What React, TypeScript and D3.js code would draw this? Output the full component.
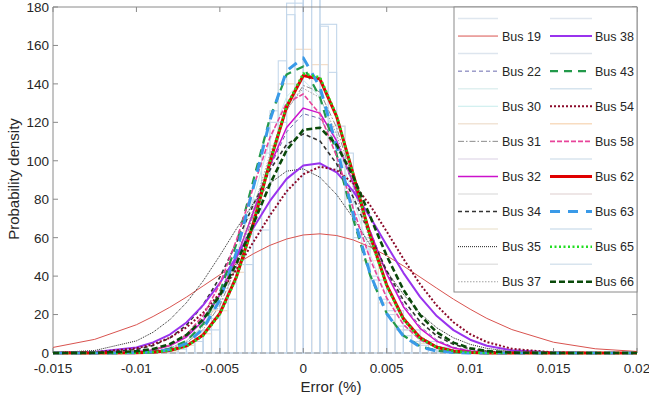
import React from 'react';
import * as d3 from 'd3';

// shared x grid of the fitted curves (Error, %)
const xGrid = [-0.015, -0.0125, -0.01, -0.009, -0.008, -0.007, -0.006, -0.005, -0.004, -0.003, -0.002, -0.001, 0, 0.001, 0.002, 0.003, 0.004, 0.005, 0.006, 0.007, 0.008, 0.009, 0.01, 0.011, 0.0125, 0.015, 0.0175, 0.02];

const bus19 = [2.9, 7.1, 14.7, 19.0, 23.8, 29.1, 34.9, 40.7, 46.4, 51.6, 56.0, 59.3, 61.4, 62.0, 61.1, 58.8, 55.2, 50.6, 45.3, 39.5, 33.7, 28.0, 22.8, 18.0, 12.2, 5.6, 2.2, 0.8];
const bus22 = [0, 0, 0.7, 1.8, 4.2, 9.1, 17.8, 31.5, 50.4, 73.2, 96.4, 115.0, 124.5, 122.0, 108.5, 87.4, 63.8, 42.2, 25.3, 13.8, 6.8, 3.0, 1.2, 0.5, 0.1, 0, 0, 0];
const bus30 = [0, 0, 0.3, 0.8, 2.5, 6.4, 14.5, 29.2, 51.6, 80.3, 110.3, 133.3, 142.0, 133.3, 110.3, 80.3, 51.6, 29.2, 14.5, 6.4, 2.5, 0.8, 0.3, 0, 0, 0, 0, 0];
const bus31 = [0, 0, 0.2, 0.7, 2.0, 5.3, 12.2, 24.8, 44.9, 71.6, 101.1, 126.2, 139.2, 135.8, 117.2, 89.4, 60.3, 35.9, 18.9, 8.8, 3.6, 1.3, 0.4, 0.1, 0, 0, 0, 0];
const bus32 = [0, 0, 0.6, 1.5, 3.7, 8.3, 16.7, 30.2, 49.5, 73.2, 97.5, 117.3, 127.4, 124.8, 110.4, 88.1, 63.4, 41.2, 24.1, 12.8, 6.1, 2.6, 1.0, 0.4, 0.1, 0, 0, 0];
const bus34 = [0, 0.2, 1.8, 3.9, 7.8, 14.5, 25.0, 39.4, 57.4, 77.0, 95.2, 108.5, 114.0, 110.3, 98.4, 80.9, 61.3, 42.8, 27.5, 16.3, 8.9, 4.5, 2.1, 0.9, 0.2, 0, 0, 0];
const bus35 = [0.2, 1.3, 6.3, 10.8, 17.3, 26.2, 37.5, 50.7, 64.7, 77.7, 88.3, 94.6, 95.8, 91.4, 82.4, 70.1, 56.3, 42.6, 30.5, 20.6, 13.1, 7.9, 4.5, 2.4, 0.8, 0.1, 0, 0];
const bus37 = [0, 0, 0.3, 0.9, 2.5, 6.2, 13.8, 27.3, 48.0, 74.8, 103.3, 126.6, 137.7, 132.8, 113.7, 86.3, 58.1, 34.8, 18.4, 8.7, 3.6, 1.3, 0.4, 0.1, 0, 0, 0, 0];
const bus38 = [0.1, 0.5, 2.9, 5.5, 9.6, 15.9, 24.9, 36.4, 50.2, 65.0, 79.1, 90.6, 97.5, 98.7, 94.0, 84.1, 70.8, 56.0, 41.7, 29.2, 19.2, 11.9, 6.9, 3.8, 1.4, 0.2, 0, 0];
const bus43 = [0, 0, 0.2, 0.7, 2.3, 6.3, 15.1, 31.5, 57.0, 89.6, 122.3, 144.9, 149.1, 133.1, 103.2, 69.4, 40.6, 20.6, 9.1, 3.5, 1.2, 0.3, 0.1, 0, 0, 0, 0, 0];
const bus54 = [0, 0.4, 2.4, 4.5, 7.9, 13.3, 20.9, 31.1, 43.6, 57.6, 71.6, 84.1, 93.0, 96.9, 95.2, 88.2, 76.9, 63.2, 49.0, 35.8, 24.7, 16.0, 9.8, 5.7, 2.2, 0.3, 0, 0];
const bus58 = [0, 0, 0.5, 1.6, 4.1, 9.5, 19.5, 35.9, 58.9, 86.1, 112.1, 130.1, 134.7, 124.3, 102.2, 75.0, 49.0, 28.6, 14.8, 6.9, 2.8, 1.0, 0.3, 0, 0, 0, 0, 0];
const bus62 = [0, 0, 0.1, 0.4, 1.3, 3.7, 9.4, 20.6, 39.8, 67.2, 99.3, 128.0, 144.4, 142.5, 123.0, 92.8, 61.2, 35.3, 17.8, 7.9, 3.0, 1.0, 0.3, 0, 0, 0, 0, 0];
const bus63 = [0, 0, 0.1, 0.5, 1.7, 4.9, 12.6, 27.6, 52.5, 85.9, 121.0, 146.8, 153.5, 138.3, 107.4, 71.8, 41.3, 20.5, 8.8, 3.2, 1.0, 0.3, 0, 0, 0, 0, 0, 0];
const bus65 = [0, 0, 0.1, 0.4, 1.2, 3.5, 9.0, 20.2, 39.3, 66.9, 99.3, 128.6, 145.4, 143.4, 123.5, 92.8, 60.8, 34.8, 17.4, 7.6, 2.9, 1.0, 0.3, 0, 0, 0, 0, 0];
const bus66 = [0, 0.1, 0.9, 2.1, 4.6, 9.4, 17.5, 29.9, 46.7, 66.9, 87.8, 105.5, 116.1, 117.2, 108.3, 91.7, 71.2, 50.5, 32.9, 19.7, 10.8, 5.4, 2.5, 1.0, 0.2, 0, 0, 0];

// background histograms (bin start, bin width, heights)
const histAStart = -0.008;
const histAWidth = 0.0005;
const histAValues = [2, 3, 5, 8, 12, 18, 26, 36, 48, 62, 80, 104, 126, 152, 176, 192, 196, 184, 170, 146, 118, 96, 72, 54, 40, 28, 20, 14, 9, 6, 4, 2, 1];
const histBStart = -0.0085;
const histBWidth = 0.001;
const histBValues = [1, 4, 10, 22, 42, 70, 108, 140, 158, 150, 118, 80, 48, 26, 12, 5, 2];
const histCStart = -0.009;
const histCWidth = 0.001;
const histCValues = [1, 2, 6, 12, 28, 46, 64, 120, 182, 188, 171, 104, 60, 38, 22, 12, 6, 3, 1];

const xTicks = [-0.015, -0.01, -0.005, 0, 0.005, 0.01, 0.015, 0.02];
const xTickLabels = ['-0.015', '-0.01', '-0.005', '0', '0.005', '0.01', '0.015', '0.02'];
const yTicks = [0, 20, 40, 60, 80, 100, 120, 140, 160, 180];

const seriesNames = ['Bus 19', 'Bus 22', 'Bus 30', 'Bus 31', 'Bus 32', 'Bus 34', 'Bus 35', 'Bus 37', 'Bus 38', 'Bus 43', 'Bus 54', 'Bus 58', 'Bus 62', 'Bus 63', 'Bus 65', 'Bus 66'];
const seriesValues = [bus19, bus22, bus30, bus31, bus32, bus34, bus35, bus37, bus38, bus43, bus54, bus58, bus62, bus63, bus65, bus66];

const styles = [
  { c: '#d9534f', w: 1, d: '' },
  { c: '#6a6aae', w: 1, d: '4,3' },
  { c: '#c6ecec', w: 1, d: '' },
  { c: '#8c8c8c', w: 1, d: '6,2,1.5,2' },
  { c: '#cc11cc', w: 1.5, d: '' },
  { c: '#333333', w: 1.6, d: '4,3' },
  { c: '#222222', w: 1, d: '1,1' },
  { c: '#a0a0a0', w: 1, d: '1.5,1.5' },
  { c: '#9933ee', w: 2, d: '' },
  { c: '#22994a', w: 2.2, d: '8,6' },
  { c: '#8b0a2a', w: 2, d: '2,2' },
  { c: '#e8449a', w: 1.6, d: '5,2' },
  { c: '#e00000', w: 3, d: '' },
  { c: '#3a9ae8', w: 3, d: '10,8' },
  { c: '#22dd22', w: 2.5, d: '2,2.5' },
  { c: '#0a4a0a', w: 2.6, d: '6,3' },
];

const histLegendColors = ['#dfe7ef', '#dde5ee', '#e0f0f0', '#f1e4d6', '#e6dfec', '#e3e3e3', '#efe8d8', '#e3e3e3', '#e0e6ee', '#dde3ea', '#d6e4ee', '#f8dcc0', '#d8e4ee', '#e8dede', '#d3e2ee', '#d8e4ee'];

const FONT = '"Liberation Sans", Arial, Helvetica, sans-serif';

export default function App() {
  const x = d3.scaleLinear().domain([-0.015, 0.02]).range([53, 637]);
  const y = d3.scaleLinear().domain([0, 180]).range([353, 7]);
  const line = d3.line<[number, number]>().x(d => x(d[0])).y(d => y(d[1]));

  const hist = (start: number, width: number, vals: number[], color: string, key: string) =>
    vals.map((v, i) => {
      const x0 = x(start + i * width);
      const x1 = x(start + (i + 1) * width);
      return <rect key={key + i} x={x0} y={y(v)} width={x1 - x0} height={y(0) - y(v)} fill="none" stroke={color} strokeWidth={1.1} />;
    });

  const legendY = (k: number) => 18.5 + k * 17.55;

  return (
    <svg width={649} height={403} style={{ position: 'absolute', left: 0, top: 0, background: '#fff' }} fontFamily={FONT}>
      <rect x={0} y={0} width={649} height={403} fill="#fff" />
      <g>
        {hist(histBStart, histBWidth, histBValues, '#f2dac4', 'b')}
        {hist(histAStart, histAWidth, histAValues, '#c6d9ec', 'a')}
        {hist(histCStart, histCWidth, histCValues, '#c2d6ea', 'c')}
      </g>
      {/* axes box */}
      <line x1={53} x2={637} y1={353} y2={353} stroke="#9a9a9a" strokeWidth={1.2} strokeDasharray="6,3" />
      <line x1={53} x2={637} y1={7} y2={7} stroke="#8a8a8a" strokeWidth={1} />
      <line x1={53} x2={53} y1={7} y2={353} stroke="#8a8a8a" strokeWidth={1} />
      <line x1={637} x2={637} y1={7} y2={353} stroke="#8a8a8a" strokeWidth={1} />
      {xTicks.map((t, i) => (
        <g key={'xt' + i}>
          <line x1={x(t)} x2={x(t)} y1={353} y2={348} stroke="#8a8a8a" />
          <line x1={x(t)} x2={x(t)} y1={7} y2={12} stroke="#8a8a8a" />
          <text x={x(t)} y={373} fontSize={13.5} textAnchor="middle" fill="#262626">{xTickLabels[i]}</text>
        </g>
      ))}
      {yTicks.map((t, i) => (
        <g key={'yt' + i}>
          <line x1={53} x2={58} y1={y(t)} y2={y(t)} stroke="#8a8a8a" />
          <line x1={637} x2={632} y1={y(t)} y2={y(t)} stroke="#8a8a8a" />
          <text x={49} y={y(t)} dy="0.36em" fontSize={13.5} textAnchor="end" fill="#262626">{t}</text>
        </g>
      ))}
      {/* fitted curves */}
      {seriesValues.map((vals, i) => (
        <path key={'s' + i} d={line(xGrid.map((xv, j) => [xv, vals[j] ?? 0]) as [number, number][]) || ''}
          fill="none" stroke={styles[i].c} strokeWidth={styles[i].w} strokeDasharray={styles[i].d || undefined} strokeLinejoin="round" />
      ))}
      <text x={331} y={392} fontSize={15} textAnchor="middle" fill="#262626">Error (%)</text>
      <text transform="translate(19,179) rotate(-90)" fontSize={15} textAnchor="middle" fill="#262626">Probability density</text>
      {/* legend */}
      <rect x={454} y={7} width={183} height={285} fill="#fff" stroke="#8a8a8a" strokeWidth={1} />
      {seriesNames.map((name, i) => {
        const col = i < 8 ? 0 : 1;
        const row = i % 8;
        const lx0 = col === 0 ? 458 : 550;
        const lx1 = col === 0 ? 498 : 592;
        const tx = col === 0 ? 502 : 595;
        const yh = legendY(row * 2);
        const yc = legendY(row * 2 + 1);
        return (
          <g key={'lg' + i}>
            <line x1={lx0} x2={lx1} y1={yh} y2={yh} stroke={histLegendColors[i]} strokeWidth={1.5} />
            <line x1={lx0} x2={lx1} y1={yc} y2={yc} stroke={styles[i].c} strokeWidth={styles[i].w} strokeDasharray={styles[i].d || undefined} />
            <text x={tx} y={yc} dy="0.36em" fontSize={12.5} fill="#262626">{name}</text>
          </g>
        );
      })}
    </svg>
  );
}
